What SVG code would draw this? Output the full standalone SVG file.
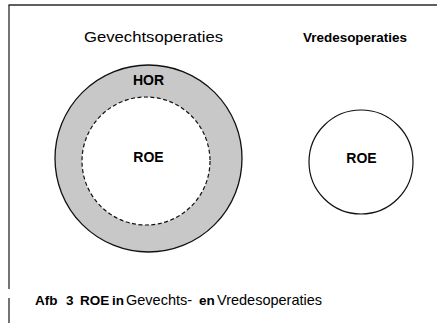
<svg xmlns="http://www.w3.org/2000/svg" width="437" height="323" viewBox="0 0 437 323">
<style>
.frame{stroke:#2a2a2a;stroke-width:1.3;fill:none}
.outer{fill:#c8c8c8;stroke:#111;stroke-width:1.3}
.inner{fill:#fff;stroke:#111;stroke-width:1.2;stroke-dasharray:4 2.5}
.plain{fill:#fff;stroke:#111;stroke-width:1.2}
.lbl{font-family:"Liberation Sans",Arial,sans-serif;font-weight:bold;font-size:14px;fill:#000;text-anchor:middle}
.t{font-family:"Liberation Sans",Arial,sans-serif;font-size:13.5px;fill:#000}
.r{font-size:14.5px}
.b{font-weight:bold}
</style>
<rect width="437" height="323" fill="#fff"/>
<g id="frame">
<line class="frame" x1="8.5" y1="5" x2="437" y2="5"/>
<line class="frame" x1="9" y1="5" x2="9" y2="289"/>
<line class="frame" x1="9" y1="298" x2="9" y2="323"/>
</g>
<g id="connectors"></g>
<g id="gevechts">
<text class="t" x="84" y="42" style="font-size:15px" textLength="139" lengthAdjust="spacingAndGlyphs">Gevechtsoperaties</text>
<circle class="outer" cx="148.5" cy="158.5" r="93.5"/>
<circle class="inner" cx="146" cy="161" r="64"/>
<text class="lbl" x="148.5" y="85">HOR</text>
<text class="lbl" x="148.5" y="162">ROE</text>
</g>
<g id="vredes">
<text class="t b" x="303" y="42" textLength="104" lengthAdjust="spacingAndGlyphs">Vredesoperaties</text>
<circle class="plain" cx="361" cy="162" r="52"/>
<text class="lbl" x="361.5" y="162.7">ROE</text>
</g>
<g id="caption">
<text class="t" y="305"><tspan class="b" x="35">Afb</tspan><tspan class="b" x="66">3</tspan><tspan class="b" x="80">ROE</tspan><tspan class="b" x="112">in</tspan><tspan class="r" x="126">Gevechts-</tspan><tspan class="b" x="199">en</tspan><tspan class="r" x="217">Vredesoperaties</tspan></text>
</g>
</svg>
